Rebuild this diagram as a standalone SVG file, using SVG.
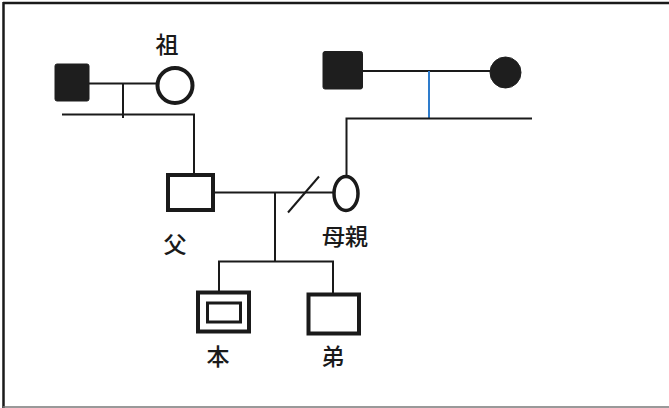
<svg xmlns="http://www.w3.org/2000/svg" width="669" height="408" viewBox="0 0 669 408">
<style>
.ln{stroke:#1a1a1a;stroke-width:2;fill:none}
.box{fill:#fff;stroke:#1a1a1a;stroke-width:4}
.fill{fill:#1e1e1e;stroke:#1e1e1e;stroke-width:1}
.lbl{font-family:"Noto Sans CJK JP","Noto Sans CJK SC",sans-serif;font-size:23px;font-weight:500;fill:#1a1a1a;text-anchor:middle;dominant-baseline:central}
</style>
<rect width="669" height="408" fill="#fff"/>
<g id="frame">
<line x1="3" y1="3" x2="669" y2="3" stroke="#1a1a1a" stroke-width="2.5"/>
<line x1="3.5" y1="2" x2="3.5" y2="408" stroke="#1a1a1a" stroke-width="2.5"/>
<line x1="3" y1="407" x2="669" y2="407" stroke="#777" stroke-width="1.5"/>
</g>
<g id="connectors">
<line class="ln" x1="89" y1="83.5" x2="158" y2="83.5"/>
<line class="ln" x1="123" y1="83.5" x2="123" y2="118"/>
<polyline class="ln" points="62,114.5 194,114.5 194,173"/>
<line class="ln" x1="362" y1="71" x2="490" y2="71"/>
<line x1="429" y1="71" x2="429" y2="118" stroke="#2e7ccc" stroke-width="2"/>
<polyline class="ln" points="532,118.5 346.5,118.5 346.5,176"/>
<line class="ln" x1="215" y1="192.5" x2="334" y2="192.5"/>
<line class="ln" x1="288" y1="212.5" x2="319" y2="176.5"/>
<line class="ln" x1="275" y1="192.5" x2="275" y2="261.5"/>
<polyline class="ln" points="219,291 219,261.5 333,261.5 333,293"/>
</g>
<g id="gf1"><rect class="fill" x="55" y="64" width="34" height="37" rx="2"/></g>
<g id="gm1"><circle cx="175" cy="85.5" r="17.5" fill="#fff" stroke="#1a1a1a" stroke-width="4"/><text class="lbl" x="167" y="43">祖</text></g>
<g id="gf2"><rect class="fill" x="323" y="51.5" width="39.5" height="37.5" rx="2"/></g>
<g id="gm2"><circle cx="505.5" cy="72.5" r="15.5" class="fill"/></g>
<g id="father"><rect class="box" x="168" y="175" width="45" height="35"/><text class="lbl" x="175" y="243">父</text></g>
<g id="mother"><ellipse cx="346" cy="193.5" rx="12" ry="17" fill="#fff" stroke="#1a1a1a" stroke-width="3.5"/><text class="lbl" x="345" y="235">母親</text></g>
<g id="self"><rect class="box" x="198" y="292.5" width="51" height="39" stroke-width="4.5"/><rect x="207.5" y="303" width="33" height="19" fill="#fff" stroke="#1a1a1a" stroke-width="3"/><text class="lbl" x="218" y="355">本</text></g>
<g id="brother"><rect class="box" x="308.5" y="294.5" width="50.5" height="39"/><text class="lbl" x="333" y="355">弟</text></g>
</svg>
